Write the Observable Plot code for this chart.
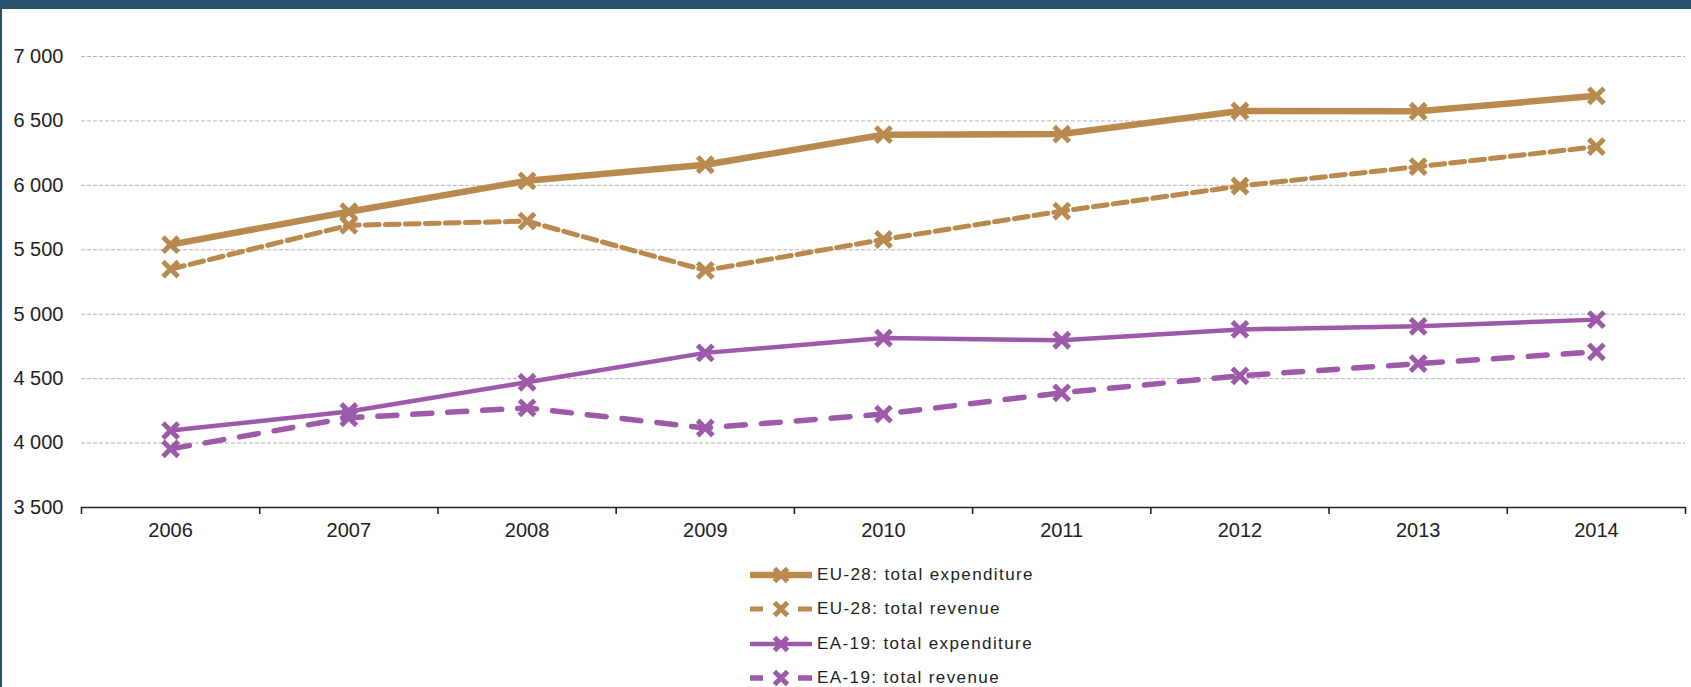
<!DOCTYPE html>
<html>
<head>
<meta charset="utf-8">
<script src="https://cdn.jsdelivr.net/npm/d3@7"></script>
<script src="https://cdn.jsdelivr.net/npm/@observablehq/plot@0.6"></script>
<style>
  html, body { margin: 0; padding: 0; background: #fff; overflow: hidden; width: 1691px; height: 687px; }
  #frame { position: absolute; left: 0; top: 0; width: 1689px; height: 678px;
           border-top: 9px solid #25516d; border-left: 2px solid #25516d; background: #fff; }
  #legend { margin-top: 4px; margin-left: 748px; font-family: "Liberation Sans", Arial, sans-serif;
            font-size: 17px; letter-spacing: 1.4px; color: #222; }
  .row { display: flex; align-items: center; height: 34.3px; white-space: nowrap; }
  .row svg { margin-right: 5px; flex: none; }
</style>
</head>
<body>
<div id="frame">
  <div id="chart"></div>
  <div id="legend"></div>
</div>
<script>
// ---- data ----
const years = [2006, 2007, 2008, 2009, 2010, 2011, 2012, 2013, 2014];
const euExpenditure = [5540, 5795, 6035, 6160, 6393, 6398, 6577, 6575, 6695];
const euRevenue     = [5350, 5690, 5722, 5340, 5580, 5800, 5995, 6145, 6300];
const eaExpenditure = [4097, 4245, 4472, 4700, 4815, 4798, 4882, 4906, 4958];
const eaRevenue     = [3955, 4196, 4273, 4117, 4225, 4390, 4522, 4616, 4708];
const seriesNames = ["EU-28: total expenditure", "EU-28: total revenue", "EA-19: total expenditure", "EA-19: total revenue"];
const yTicks = [3500, 4000, 4500, 5000, 5500, 6000, 6500, 7000];

// ---- styles ----
const tan = "#b88a4e", purple = "#9c5aa9";
const seriesStyle = [
  {stroke: tan,    width: 6.5, dash: null,    legendDash: null},
  {stroke: tan,    width: 5,   dash: "14,6",  legendDash: "13,35,14"},
  {stroke: purple, width: 4.5, dash: null,    legendDash: null},
  {stroke: purple, width: 5.5, dash: "19,16", legendDash: "13,35,14"}
];

const seriesValues = [euExpenditure, euRevenue, eaExpenditure, eaRevenue];
const rows = [];
seriesValues.forEach((vals, i) => vals.forEach((v, j) => rows.push({series: seriesNames[i], year: years[j], value: v})));

const edges = years.map(y => y - 0.5).concat([years[years.length - 1] + 0.5]);
const fmt = d => d3.format(",")(d).replace(/,/g, " ");

const seriesMarks = [];
seriesNames.forEach((name, i) => {
  const s = seriesStyle[i];
  const data = rows.filter(r => r.series === name);
  seriesMarks.push(Plot.line(data, {x: "year", y: "value", stroke: s.stroke, strokeWidth: s.width,
    strokeDasharray: s.dash || undefined, strokeLinejoin: "round"}));
  seriesMarks.push(Plot.dot(data, {x: "year", y: "value", symbol: "times", r: 7, stroke: s.stroke, strokeWidth: 5}));
});

const chart = Plot.plot({
  width: 1689,
  height: 545,
  marginLeft: 79,
  marginRight: 6,
  marginTop: 47,
  marginBottom: 47,
  style: {fontFamily: "'Liberation Sans', Arial, sans-serif", fontSize: "20px", color: "#222", background: "white", overflow: "visible"},
  x: {type: "linear", domain: [edges[0], edges[edges.length - 1]]},
  y: {domain: [3500, 7000]},
  marks: [
    Plot.ruleY(yTicks.filter(v => v > 3500), {stroke: "#b4b4b4", strokeWidth: 1, strokeDasharray: "4,2"}),
    Plot.axisY({ticks: yTicks, tickSize: 0, tickPadding: 18, tickFormat: fmt, label: null}),
    Plot.axisX({ticks: years, tickSize: 0, tickPadding: 15, tickFormat: d => String(d), label: null}),
    Plot.axisX({ticks: edges, tickSize: 7, tickFormat: () => "", label: null, stroke: "#222", strokeOpacity: 1, strokeWidth: 1.6}),
    Plot.ruleY([3500], {stroke: "#222", strokeWidth: 1.6}),
    ...seriesMarks
  ]
});
document.getElementById("chart").appendChild(chart);

// ---- legend ----
const legend = d3.select("#legend");
const sym = d3.symbol(d3.symbolTimes, Math.PI * 36)();
seriesNames.forEach((name, i) => {
  const s = seriesStyle[i];
  const row = legend.append("div").attr("class", "row");
  const svg = row.append("svg").attr("width", 62).attr("height", 22);
  svg.append("line").attr("x1", 0).attr("x2", 62).attr("y1", 11).attr("y2", 11)
    .attr("stroke", s.stroke).attr("stroke-width", s.width)
    .attr("stroke-dasharray", s.legendDash);
  svg.append("path").attr("d", sym).attr("transform", "translate(31,11)")
    .attr("fill", "none").attr("stroke", s.stroke).attr("stroke-width", 5);
  row.append("span").text(name);
});
</script>
</body>
</html>
